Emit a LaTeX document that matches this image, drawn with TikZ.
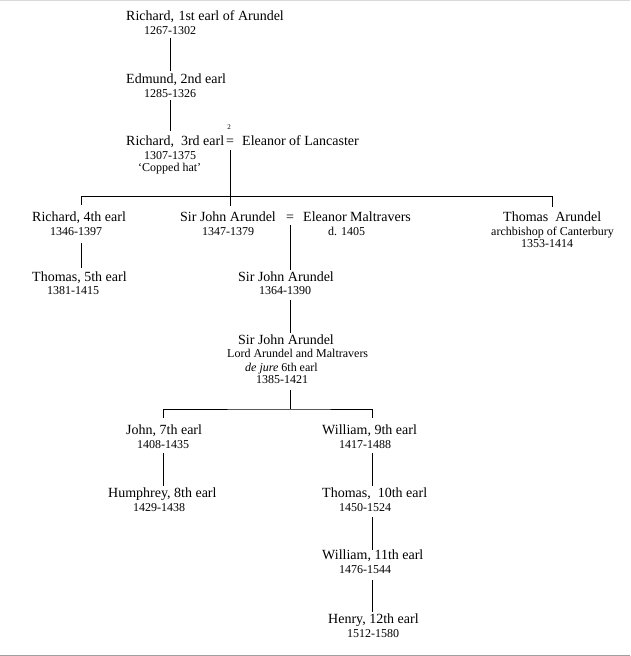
\documentclass[tikz,border=0pt]{standalone}
\usepackage{fontspec}
\setmainfont{Liberation Serif}
\usetikzlibrary{calc}
\tikzset{
  nm/.style={anchor=base west, inner sep=0pt, font=\fontsize{14}{16}\selectfont},
  dt/.style={anchor=base west, inner sep=0pt, font=\fontsize{12}{14}\selectfont},
  eqs/.style={anchor=base, inner sep=0pt, font=\fontsize{14}{16}\selectfont},
  sup/.style={anchor=base, inner sep=0pt, font=\fontsize{7}{8}\selectfont},
  ln/.style={line width=1pt, black}
}
\begin{document}
\begin{tikzpicture}[x=1pt,y=-1pt]
\useasboundingbox (0,0) rectangle (630,656);
\draw[gray!30, line width=1pt] (0,0.5) -- (630,0.5);
\draw[gray!75, line width=1pt] (0,655.5) -- (630,655.5);

% row 1
\node[nm] (n1) at (126,20) {Richard,\hspace{1pt} 1st earl of Arundel};
\node[dt] (d1) at (144,34) {1267-1302};
% row 2
\node[nm] (n2) at (126,83) {Edmund, 2nd earl};
\node[dt] (d2) at (144,97) {1285-1326};
% row 3
\node[nm] (n3) at (126,145) {Richard,\ \ 3rd earl};
\node[eqs] (eq1) at (230,145) {=};
\node[sup] (s2) at (229,129) {2};
\node[nm] (el) at (242,145) {Eleanor of Lancaster};
\node[dt] (d3) at (144,159) {1307-1375};
\node[dt] (cop) at (138,171) {‘Copped hat’};
% row 4
\node[nm] (r4) at (32,221) {Richard, 4th earl};
\node[dt] (r4d) at (50,235) {1346-1397};
\node[nm] (sj1) at (180,221) {Sir John Arundel};
\node[eqs] (eq2) at (290,221) {=};
\node[nm] (em) at (303,221) {Eleanor Maltravers};
\node[dt] (sj1d) at (202,235) {1347-1379};
\node[dt] (emd) at (328,235) {d. 1405};
\node[nm] (ta) at (503,221) {Thomas\ \ Arundel};
\node[dt] (tat) at (491,235) {archbishop of Canterbury};
\node[dt] (tad) at (521,247) {1353-1414};
% row 5
\node[nm] (t5) at (32,281) {Thomas, 5th earl};
\node[dt] (t5d) at (47,294) {1381-1415};
\node[nm] (sj2) at (238,281) {Sir John Arundel};
\node[dt] (sj2d) at (259,294) {1364-1390};
% row 6
\node[nm] (sj3) at (238,344) {Sir John Arundel};
\node[dt] (lam) at (227,357) {Lord Arundel and Maltravers};
\node[dt] (dj) at (245,371) {\textit{de jure} 6th earl};
\node[dt] (sj3d) at (256,383) {1385-1421};
% row 7
\node[nm] (j7) at (126,434) {John, 7th earl};
\node[dt] (j7d) at (137,448) {1408-1435};
\node[nm] (w9) at (322,434) {William, 9th earl};
\node[dt] (w9d) at (339,448) {1417-1488};
% row 8
\node[nm] (h8) at (108,497) {Humphrey, 8th earl};
\node[dt] (h8d) at (133,511) {1429-1438};
\node[nm] (t10) at (322,497) {Thomas,\ \ 10th earl};
\node[dt] (t10d) at (339,511) {1450-1524};
% row 9
\node[nm] (w11) at (322,559) {William, 11th earl};
\node[dt] (w11d) at (339,573) {1476-1544};
% row 10
\node[nm] (h12) at (328,623) {Henry, 12th earl};
\node[dt] (h12d) at (347,637) {1512-1580};

% junction coordinates
\coordinate (b2) at (290,409);
\coordinate (cw) at (372,409);
\coordinate (cl) at (81,196);
\coordinate (cr) at (552,196);

% connectors
\draw[ln] ($(d1.base)+(0,4)$) -- ($(d1.base |- n2.base)+(0,-12)$);
\draw[ln] ($(d2.base)+(0,3)$) -- ($(d2.base |- n3.base)+(0,-14)$);
\draw[ln] ($(eq1.base)+(0,5)$) -- ($(eq1.base |- sj1.base)+(0,-15)$);
\draw[ln] ($(cl |- r4.base)+(0,-16)$) -- (cl) -- (cr) -- ($(cr |- ta.base)+(0,-14)$);
\draw[ln] ($(cl |- r4.base)+(0,22)$) -- ($(cl |- t5.base)+(0,-13)$);
\draw[ln] ($(eq2.base)+(0,4)$) -- ($(eq2.base |- sj2.base)+(0,-11)$);
\draw[ln] ($(eq2.base |- sj2d.base)+(0,6)$) -- ($(eq2.base |- sj3.base)+(0,-11)$);
\draw[ln] ($(eq2.base |- sj3d.base)+(0,7)$) -- (b2);
\draw[ln] ($(j7d.base |- j7.base)+(0,-16)$) |- (b2) -- (cw) -- ($(cw |- w9.base)+(0,-16)$);
\draw[ln] ($(j7d.base)+(0,5)$) -- ($(j7d.base |- h8.base)+(0,-11)$);
\draw[ln] ($(cw |- w9d.base)+(0,5)$) -- ($(cw |- t10.base)+(0,-11)$);
\draw[ln] ($(cw |- t10d.base)+(0,6)$) -- ($(cw |- w11.base)+(0,-9)$);
\draw[ln] ($(cw |- w11d.base)+(0,7)$) -- ($(cw |- h12.base)+(0,-11)$);
\end{tikzpicture}
\end{document}
